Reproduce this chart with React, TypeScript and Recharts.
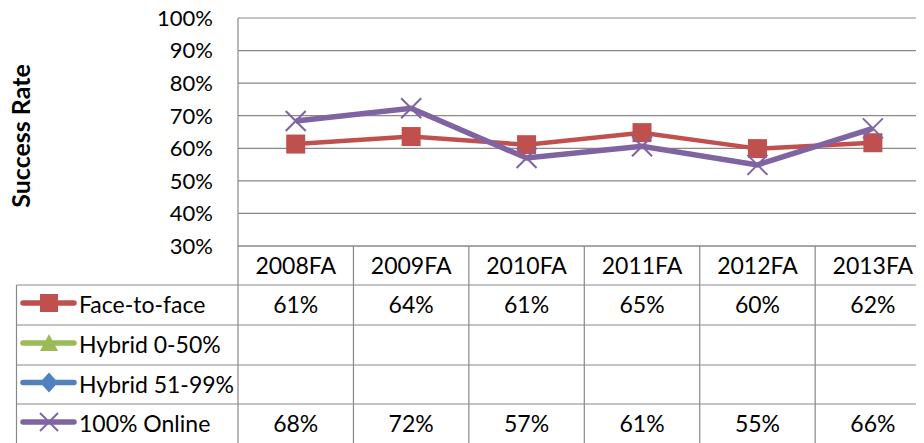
import React from 'react';
import { LineChart, Line, XAxis, YAxis, CartesianGrid } from 'recharts';

const categories = ['2008FA', '2009FA', '2010FA', '2011FA', '2012FA', '2013FA'];
const faceToFace = [0.613, 0.636, 0.611, 0.648, 0.599, 0.617];
const hybrid050: (number | null)[] = [null, null, null, null, null, null];
const hybrid5199: (number | null)[] = [null, null, null, null, null, null];
const online100 = [0.684, 0.723, 0.57, 0.606, 0.549, 0.661];
const yTicks = [0.3, 0.4, 0.5, 0.6, 0.7, 0.8, 0.9, 1.0];

const seriesInfo = [
  { key: 'face', name: 'Face-to-face', color: '#C0504D', values: faceToFace, marker: 'square' },
  { key: 'h1', name: 'Hybrid 0-50%', color: '#9BBB59', values: hybrid050, marker: 'triangle' },
  { key: 'h2', name: 'Hybrid 51-99%', color: '#4F81BD', values: hybrid5199, marker: 'diamond' },
  { key: 'online', name: '100% Online', color: '#8064A2', values: online100, marker: 'x' },
];

const data = categories.map((c, i) => ({
  cat: c,
  face: faceToFace[i],
  h1: hybrid050[i],
  h2: hybrid5199[i],
  online: online100[i],
}));

const VIEW_W = 924;
const W = 932;
const H = 443;
const PLOT_LEFT = 238;
const PLOT_TOP = 18;
const PLOT_BOTTOM = 246;
const MARGIN_RIGHT = 1.4;
const PLOT_W = W - PLOT_LEFT - MARGIN_RIGHT;
const STEP = PLOT_W / categories.length;
const HALF = STEP / 2;
const FONT = 'Lato, "Open Sans", sans-serif';
const FS_TICK = 22;
const FS = 23;
const FS_LABEL = 25;
const GRID = '#898989';
const ROW_LINES = [285, 325, 365, 404];
const ROW_CENTERS = [305, 345, 384.5, 424];
const HEADER_CENTER = 265.5;
const CAP = 0.36;

const fmt = (v: number) => `${Math.round(v * 100)}%`;

const Marker = ({ type, cx, cy, color, size }: any) => {
  const s = size / 2;
  if (type === 'square') {
    return <rect x={cx - s} y={cy - s} width={size} height={size} fill={color} />;
  }
  if (type === 'triangle') {
    return <polygon points={`${cx},${cy - s} ${cx + s},${cy + s * 0.9} ${cx - s},${cy + s * 0.9}`} fill={color} />;
  }
  if (type === 'diamond') {
    return <polygon points={`${cx},${cy - s * 1.1} ${cx + s},${cy} ${cx},${cy + s * 1.1} ${cx - s},${cy}`} fill={color} />;
  }
  return (
    <g stroke={color} strokeWidth={2}>
      <line x1={cx - s} y1={cy - s} x2={cx + s} y2={cy + s} />
      <line x1={cx - s} y1={cy + s} x2={cx + s} y2={cy - s} />
    </g>
  );
};

const makeDot = (type: string, color: string) => (props: any) => {
  const { cx, cy, index } = props;
  if (cx == null || cy == null || props.value == null) return <g key={index} />;
  return (
    <g key={index}>
      <Marker type={type} cx={cx} cy={cy} color={color} size={type === 'x' ? 20 : 19} />
    </g>
  );
};

const TableTick = (props: any) => {
  const { x, y, payload } = props;
  const i = categories.indexOf(payload.value);
  return (
    <g>
      <text
        x={x}
        y={HEADER_CENTER + CAP * FS}
        textAnchor="middle"
        fontSize={FS}
        fontFamily={FONT}
        fill="#000"
      >
        {payload.value}
      </text>
      {seriesInfo.map((s, r) =>
        s.values[i] != null ? (
          <text
            key={s.key}
            x={x}
            y={ROW_CENTERS[r] + CAP * FS}
            textAnchor="middle"
            fontSize={FS}
            fontFamily={FONT}
            fill="#000"
          >
            {fmt(s.values[i] as number)}
          </text>
        ) : null
      )}
      <line x1={x + HALF} x2={x + HALF} y1={y} y2={H} stroke={GRID} strokeWidth={1.2} />
    </g>
  );
};

const Overlay = () => (
  <svg
    width={VIEW_W}
    height={H}
    style={{ position: 'absolute', left: 0, top: 0, pointerEvents: 'none' }}
  >
    <text
      transform={`translate(20.5, 136) rotate(-90)`}
      x={0}
      y={CAP * FS_LABEL}
      textAnchor="middle"
      fontSize={FS_LABEL}
      fontWeight="bold"
      fontFamily={FONT}
      fill="#000"
    >
      Success Rate
    </text>
    {ROW_LINES.map((yy, k) => (
      <line key={k} x1={16.5} x2={VIEW_W} y1={yy} y2={yy} stroke={GRID} strokeWidth={1.2} />
    ))}
    <line x1={16.5} x2={16.5} y1={ROW_LINES[0]} y2={H} stroke={GRID} strokeWidth={1.2} />
    <line x1={PLOT_LEFT} x2={PLOT_LEFT} y1={PLOT_BOTTOM} y2={H} stroke={GRID} strokeWidth={1.2} />
    {seriesInfo.map((s, r) => (
      <g key={s.key}>
        <line
          x1={23}
          x2={74}
          y1={ROW_CENTERS[r] - 2}
          y2={ROW_CENTERS[r] - 2}
          stroke={s.color}
          strokeWidth={5.5}
          strokeLinecap="round"
        />
        <Marker type={s.marker} cx={49} cy={ROW_CENTERS[r] - 2} color={s.color} size={18} />
        <text
          x={79}
          y={ROW_CENTERS[r] + CAP * FS}
          fontSize={FS}
          fontFamily={FONT}
          fill="#000"
        >
          {s.name}
        </text>
      </g>
    ))}
  </svg>
);

export default function App() {
  return (
    <div
      style={{
        width: VIEW_W,
        height: H,
        marginLeft: -8,
        marginTop: -8,
        overflow: 'hidden',
        position: 'relative',
      }}
    >
      <div style={{ position: 'absolute', left: 0, top: 0 }}>
        <LineChart
          width={W}
          height={H}
          data={data}
          margin={{ top: PLOT_TOP, right: MARGIN_RIGHT, left: 0, bottom: 0 }}
        >
          <CartesianGrid horizontal vertical={false} stroke={GRID} strokeWidth={1.2} />
          <XAxis
            dataKey="cat"
            interval={0}
            height={H - PLOT_BOTTOM}
            padding={{ left: HALF, right: HALF }}
            tickLine={false}
            tickSize={0}
            tickMargin={0}
            axisLine={{ stroke: GRID, strokeWidth: 1.2 }}
            tick={<TableTick />}
          />
          <YAxis
            domain={[0.3, 1]}
            ticks={yTicks}
            interval={0}
            width={PLOT_LEFT}
            tickFormatter={fmt}
            tickLine={false}
            tickSize={0}
            tickMargin={25}
            axisLine={{ stroke: GRID, strokeWidth: 1.2 }}
            tick={{ fontSize: FS_TICK, fontFamily: FONT, fill: '#000' }}
            allowDataOverflow
          />
          {seriesInfo.map((s) => (
            <Line
              key={s.key}
              dataKey={s.key}
              name={s.name}
              stroke={s.color}
              strokeWidth={s.key === 'online' ? 5.5 : 4.5}
              dot={makeDot(s.marker, s.color)}
              activeDot={false}
              isAnimationActive={false}
              connectNulls={false}
            />
          ))}
        </LineChart>
      </div>
      <Overlay />
    </div>
  );
}
